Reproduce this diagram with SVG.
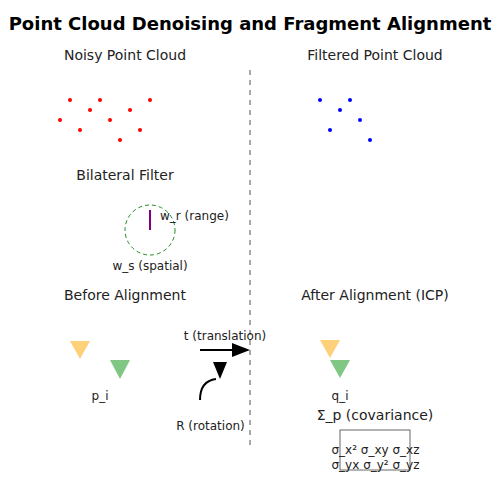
<svg xmlns="http://www.w3.org/2000/svg" width="500" height="500" viewBox="0 0 500 500">
<defs>
<style>
text{font-family:"DejaVu Sans","Liberation Sans",sans-serif;fill:#000}
.title{font-size:18px;font-weight:bold}
.h{font-size:14px;fill:#222}
.s{font-size:12px;fill:#222}
.m{font-size:12px;fill:#222}
.red{fill:#ff0000}
.blue{fill:#0000ff}
.or{fill:#ffc04d;fill-opacity:0.75}
.gr{fill:#4caf50;fill-opacity:0.7}
</style>
</defs>
<rect width="500" height="500" fill="#fff"/>
<text class="title" x="250" y="30" text-anchor="middle">Point Cloud Denoising and Fragment Alignment</text>

<g id="divider"><line x1="250" y1="70" x2="250" y2="445" stroke="#aaa" stroke-width="2" stroke-dasharray="5,5"/></g>

<g id="noisy">
<text class="h" x="125" y="60" text-anchor="middle">Noisy Point Cloud</text>
<circle class="red" cx="70" cy="100" r="2"/>
<circle class="red" cx="100" cy="100" r="2"/>
<circle class="red" cx="150" cy="100" r="2"/>
<circle class="red" cx="90" cy="110" r="2"/>
<circle class="red" cx="130" cy="110" r="2"/>
<circle class="red" cx="60" cy="120" r="2"/>
<circle class="red" cx="110" cy="120" r="2"/>
<circle class="red" cx="80" cy="130" r="2"/>
<circle class="red" cx="140" cy="130" r="2"/>
<circle class="red" cx="120" cy="140" r="2"/>
</g>

<g id="filtered">
<text class="h" x="375" y="60" text-anchor="middle">Filtered Point Cloud</text>
<circle class="blue" cx="320" cy="100" r="2"/>
<circle class="blue" cx="350" cy="100" r="2"/>
<circle class="blue" cx="340" cy="110" r="2"/>
<circle class="blue" cx="360" cy="120" r="2"/>
<circle class="blue" cx="330" cy="130" r="2"/>
<circle class="blue" cx="370" cy="140" r="2"/>
</g>

<g id="bilateral">
<text class="h" x="125" y="180" text-anchor="middle">Bilateral Filter</text>
<circle cx="150" cy="230" r="25" fill="none" stroke="#228b22" stroke-width="1" stroke-dasharray="4,3"/>
<line x1="150" y1="210" x2="150" y2="230" stroke="#800080" stroke-width="2"/>
<text class="s" x="160" y="220">w_r (range)</text>
<text class="s" x="150" y="270" text-anchor="middle">w_s (spatial)</text>
</g>

<g id="before">
<text class="h" x="125" y="300" text-anchor="middle">Before Alignment</text>
<polygon class="or" points="70,341 90,341 80,359"/>
<polygon class="gr" points="110,360 130,360 120,379"/>
<text class="s" x="100" y="400" text-anchor="middle">p_i</text>
</g>

<g id="after">
<text class="h" x="375" y="300" text-anchor="middle">After Alignment (ICP)</text>
<polygon class="or" points="320,340 340,340 330,358"/>
<polygon class="gr" points="330,360 350,360 340,378"/>
<text class="s" x="340" y="400" text-anchor="middle">q_i</text>
</g>

<g id="covariance">
<text class="h" x="375" y="420" text-anchor="middle">Σ_p (covariance)</text>
<rect x="340" y="430" width="70" height="40" fill="none" stroke="#666" stroke-width="1"/>
<text class="m" x="375.5" y="454" text-anchor="middle">σ_x² σ_xy σ_xz</text>
<text class="m" x="375.5" y="469" text-anchor="middle">σ_yx σ_y² σ_yz</text>
</g>

<g id="connectors">
<line x1="200" y1="350" x2="233" y2="350" stroke="#000" stroke-width="2"/>
<polygon points="232,343 250,350 232,357" fill="#000"/>
<text class="s" x="225" y="340" text-anchor="middle">t (translation)</text>
<path d="M200,400 Q200,381 216,379" fill="none" stroke="#000" stroke-width="2"/>
<polygon points="213,362 227,362 220,379" fill="#000"/>
<text class="s" x="210.5" y="430" text-anchor="middle">R (rotation)</text>
</g>
</svg>
